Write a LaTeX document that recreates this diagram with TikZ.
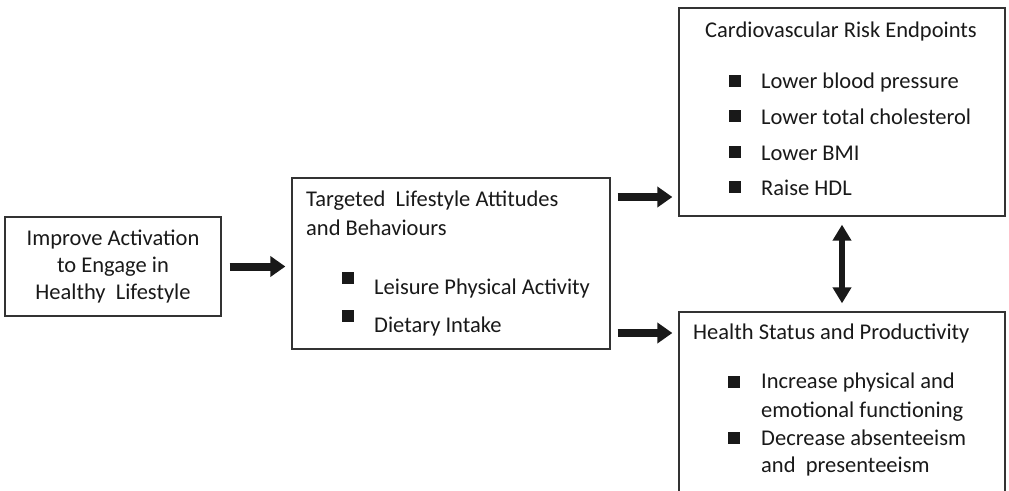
\documentclass[tikz,border=0pt]{standalone}
\usepackage{fontspec}
\setmainfont{Carlito}
\usetikzlibrary{arrows.meta}

\begin{document}
\begin{tikzpicture}[x=1pt, y=-1pt, font=\fontsize{22.5}{27}\selectfont, text=black!90]
\useasboundingbox (0,0) rectangle (1009,490);
\clip (0,0) rectangle (1009,490);
\begin{scope}[every node/.style={rectangle,draw=black!80,line width=1.3pt,inner sep=0pt}]
    \node[minimum width=216pt, minimum height=99pt, align=center] (A) at (113,266.5) {Improve Activation\\ to Engage in\\ Healthy~ Lifestyle};
    \node[minimum width=318pt, minimum height=171pt] (B) at (451,263.5) {};
    \node[minimum width=326pt, minimum height=208pt] (C) at (842,112) {};
    \node[minimum width=326pt, minimum height=200pt] (D) at (842,412) {};
\end{scope}
\begin{scope}[every node/.style={anchor=west,align=left,inner sep=0pt}]
    \node[font=\fontsize{22.5}{29}\selectfont] (Btitle) at (306,213.5) {Targeted~ Lifestyle Attitudes\\and Behaviours};
    \node (Bitem1) at (374,288) {Leisure Physical Activity};
    \node (Bitem2) at (374,326) {Dietary Intake};
    \node[anchor=center] (Ctitle) at (841,31) {Cardiovascular Risk Endpoints};
    \node (Citem1) at (761,82) {Lower blood pressure};
    \node (Citem2) at (761,117) {Lower total cholesterol};
    \node (Citem3) at (761,153) {Lower BMI};
    \node (Citem4) at (761,188) {Raise HDL};
    \node (Dtitle) at (693,333) {Health Status and Productivity};
    \node[font=\fontsize{22.5}{29}\selectfont] (Ditem1) at (761,397.5) {Increase physical and\\emotional functioning};
    \node (Ditem2) at (761,452.5) {Decrease absenteeism\\and~ presenteeism};
\end{scope}
\begin{scope}[every node/.style={rectangle,fill=black!90,minimum size=12pt,inner sep=0pt}]
    \node (Bbul1) at (348,278) {};
    \node (Bbul2) at (348,316) {};
    \node (Cbul1) at (735,81) {};
    \node (Cbul2) at (735,116) {};
    \node (Cbul3) at (735,152) {};
    \node (Cbul4) at (735,187) {};
    \node (Dbul1) at (734,382) {};
    \node (Dbul2) at (734,438) {};
\end{scope}
\begin{scope}[>={Triangle[length=15pt,width=20pt]}, every edge/.style={draw=black!90,line width=8pt}]
    \path [->] (A.east) edge[shorten <=8pt, shorten >=6pt] (A.east -| B.west);
    \path [->] ([yshift=66.5pt]B.east) edge[shorten <=7pt, shorten >=6pt] ([yshift=66.5pt]B.east -| C.west);
    \path [->] (B.east |- Dtitle) edge[shorten <=7pt, shorten >=6pt] (Dtitle -| D.west);
    \path [->] (C.south) edge[{Triangle[length=16pt,width=18pt]}-{Triangle[length=16pt,width=18pt]}, line width=6pt, shorten <=8pt, shorten >=8pt] (D.north);
\end{scope}
\end{tikzpicture}
\end{document}
